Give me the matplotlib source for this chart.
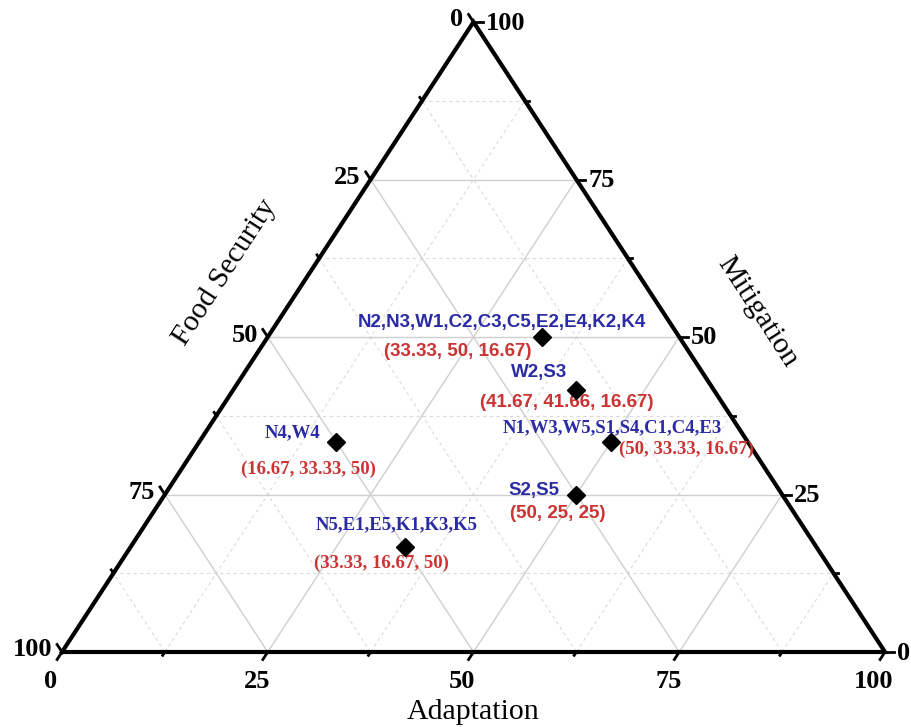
import matplotlib.pyplot as plt

# ternary data: (Adaptation, Mitigation, Food Security)
adaptation = [33.33, 41.67, 50, 50, 16.67, 33.33]
mitigation = [50, 41.66, 33.33, 25, 33.33, 16.67]
food_security = [16.67, 16.67, 16.67, 25, 50, 50]
groups = ["N2,N3,W1,C2,C3,C5,E2,E4,K2,K4", "W2,S3", "N1,W3,W5,S1,S4,C1,C4,E3",
          "S2,S5", "N4,W4", "N5,E1,E5,K1,K3,K5"]
ticks = [0, 25, 50, 75, 100]
minor_ticks = [12.5, 37.5, 62.5, 87.5]

SERIF = "Liberation Serif"
SANS = "Liberation Sans"
BLUE = "#2b2ba6"
RED = "#cc3333"

# label styles/offsets in pixels (group label, coordinate label)
label_font = [SANS, SANS, SERIF, SANS, SERIF, SERIF]
group_off = [(-40, 14), (-37, 17), (2, 14), (-42, 4), (-44, 9), (-8, 22)]
coord_off = [(-84, -15), (-10, -13), (76, -7), (-19, -19), (-28, -27), (-23, -16)]


def tern(a, m):
    """ Adaptation / Mitigation -> cartesian (x, y) in a 0..100 box """
    return a + m / 2.0, m


def fmt(v):
    return "%g" % v


fig = plt.figure(figsize=(9.11, 7.27), dpi=100)
ax = fig.add_axes([62 / 911, 75 / 727, 823 / 911, 630 / 727])
ax.set_xlim(0, 100)
ax.set_ylim(0, 100)
ax.axis("off")

# grid lines
for v in minor_ticks + ticks[1:-1]:
    style = "-" if v in ticks else (0, (3, 3))
    col = "#cfcfcf" if v in ticks else "#dadada"
    lw = 1.0 if v in ticks else 0.8
    # constant adaptation
    x0, y0 = tern(v, 0)
    x1, y1 = tern(v, 100 - v)
    ax.plot([x0, x1], [y0, y1], ls=style, color=col, lw=lw, zorder=1)
    # constant mitigation
    x0, y0 = tern(0, v)
    x1, y1 = tern(100 - v, v)
    ax.plot([x0, x1], [y0, y1], ls=style, color=col, lw=lw, zorder=1)
    # constant food security
    x0, y0 = tern(100 - v, 0)
    x1, y1 = tern(0, 100 - v)
    ax.plot([x0, x1], [y0, y1], ls=style, color=col, lw=lw, zorder=1)

# triangle frame
ax.plot([0, 100, 50, 0], [0, 0, 100, 0], color="black", lw=3, zorder=3,
        solid_joinstyle="miter", clip_on=False)

# ticks (pixel scale: 8.23 px per x unit, 6.3 px per y unit)
def tick(x, y, dx, dy, length):
    px = (dx * 8.23, dy * 6.3)
    n = (px[0] ** 2 + px[1] ** 2) ** 0.5
    ux, uy = px[0] / n * length / 8.23, px[1] / n * length / 6.3
    ax.plot([x, x + ux], [y, y + uy], color="black", lw=2, clip_on=False, zorder=3)


for vals, length in [(ticks, 9), (minor_ticks, 4)]:
    for v in vals:
        x, y = tern(v, 0)
        tick(x, y, -0.5, -1, length)          # adaptation
        x, y = tern(0, 100 - v)
        tick(x, y, -0.5, 1, length)           # food security
        x, y = tern(100 - v, v)
        tick(x, y, 1, 0, length)              # mitigation

tick_kw = dict(textcoords="offset pixels", fontsize=19, fontweight="bold",
               family=SERIF, annotation_clip=False)
for v in ticks:
    ax.annotate(fmt(v), tern(v, 0), xytext=(-11, -30), ha="center", va="center", **tick_kw)
    ax.annotate(fmt(v), tern(0, 100 - v), xytext=(-10, 2), ha="right", va="center", **tick_kw)
    ax.annotate(fmt(v), tern(100 - v, v), xytext=(12, -1), ha="left", va="center", **tick_kw)

# axis titles
ax.annotate("Adaptation", tern(50, 0), xytext=(0, -60), textcoords="offset pixels",
            ha="center", va="center", fontsize=21.5, family=SERIF, annotation_clip=False)
ax.annotate("Food Security", tern(0, 50), xytext=(-43, 65), textcoords="offset pixels",
            ha="center", va="center", fontsize=21.5, family=SERIF, rotation=57,
            annotation_clip=False)
ax.annotate("Mitigation", tern(50, 50), xytext=(78, 25), textcoords="offset pixels",
            ha="center", va="center", fontsize=21.5, family=SERIF, rotation=-57,
            annotation_clip=False)

# points and labels
for i in range(len(groups)):
    x, y = tern(adaptation[i], mitigation[i])
    ax.plot(x, y, marker="D", ms=9, color="black", ls="none", zorder=5)
    ax.annotate(groups[i], (x, y), xytext=group_off[i], textcoords="offset pixels",
                ha="center", va="center", fontsize=13.5, fontweight="bold",
                family=label_font[i], color=BLUE)
    coords = "(%s, %s, %s)" % (fmt(adaptation[i]), fmt(mitigation[i]), fmt(food_security[i]))
    ax.annotate(coords, (x, y), xytext=coord_off[i], textcoords="offset pixels",
                ha="center", va="center", fontsize=13.5, fontweight="bold",
                family=label_font[i], color=RED)

fig.savefig("out.png", dpi=100)
